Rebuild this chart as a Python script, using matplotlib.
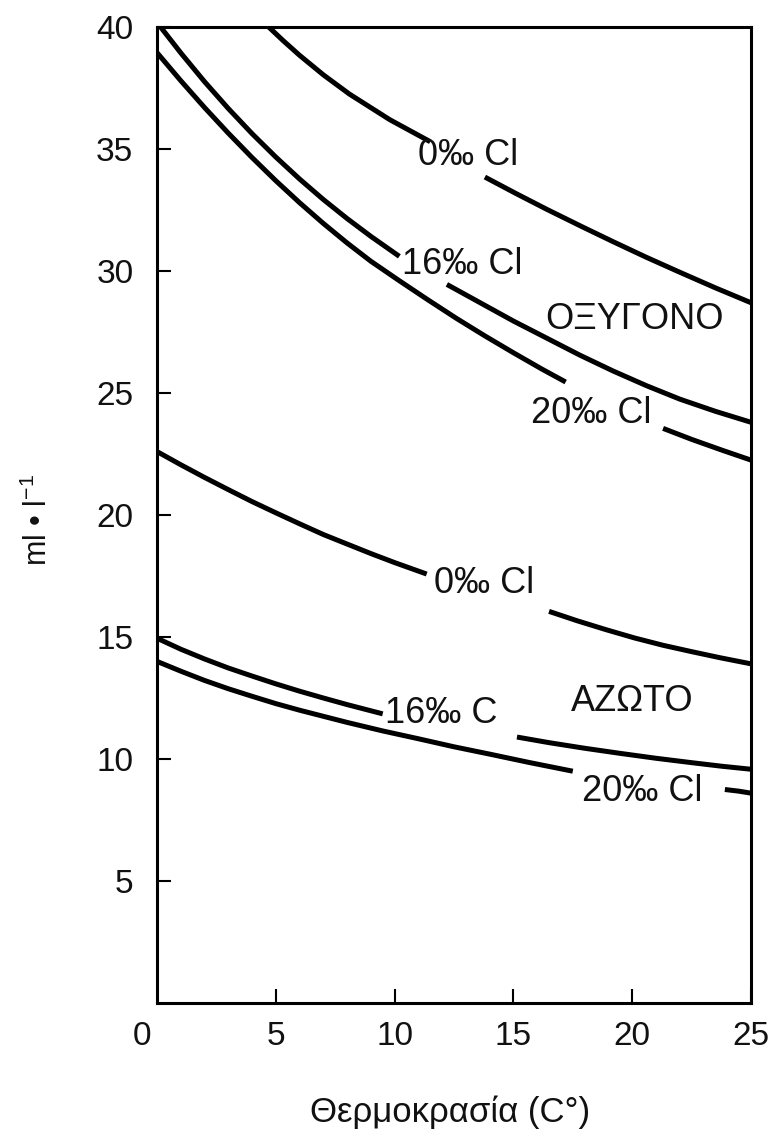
import matplotlib
matplotlib.use("Agg")
import matplotlib.pyplot as plt
import matplotlib.transforms as mtransforms

plt.rcParams['font.family'] = ['Liberation Sans', 'DejaVu Sans']
plt.rcParams['mathtext.fontset'] = 'custom'
plt.rcParams['mathtext.rm'] = 'Liberation Sans'
plt.rcParams['mathtext.it'] = 'Liberation Sans'
plt.rcParams['mathtext.default'] = 'rm'

# ---- data (temperature °C, dissolved gas ml/l); each curve has two segments ----
o2_0_T = [[4.7, 5.3, 6.0, 7.0, 8.1, 9.8, 11.5],
          [13.8, 15.1, 16.4, 17.9, 19.2, 20.6, 22.0, 23.5, 25.0]]
o2_0_V = [[40.0, 39.45, 38.84, 38.04, 37.25, 36.2, 35.3],
          [33.85, 33.18, 32.53, 31.81, 31.2, 30.56, 29.95, 29.31, 28.7]]

o2_16_T = [[0.15, 1.0, 2.0, 3.0, 4.0, 5.0, 6.0, 7.0, 8.0, 9.0, 10.2],
           [12.2, 13.6, 15.0, 16.4, 17.8, 19.2, 20.6, 22.0, 23.5, 25.0]]
o2_16_V = [[40.0, 38.94, 37.76, 36.66, 35.63, 34.67, 33.77, 32.93, 32.15, 31.42, 30.6],
           [29.45, 28.7, 27.95, 27.25, 26.55, 25.9, 25.3, 24.75, 24.25, 23.8]]

o2_20_T = [[0.0, 1.0, 2.0, 3.0, 4.0, 5.0, 6.0, 7.0, 8.0, 9.0, 10.2, 11.4, 12.6, 13.8, 15.0, 16.2, 17.2],
           [21.3, 22.5, 23.8, 25.0]]
o2_20_V = [[38.95, 37.8, 36.7, 35.65, 34.65, 33.7, 32.8, 31.95, 31.15, 30.4, 29.6, 28.82, 28.06, 27.34, 26.65, 25.98, 25.45],
           [23.55, 23.1, 22.65, 22.25]]

n2_0_T = [[0.0, 1.0, 2.0, 3.0, 4.0, 5.0, 6.0, 7.0, 8.0, 9.0, 10.0, 11.35],
          [16.5, 17.7, 18.9, 20.1, 21.3, 22.5, 23.7, 25.0]]
n2_0_V = [[22.6, 22.06, 21.54, 21.04, 20.55, 20.09, 19.64, 19.2, 18.81, 18.42, 18.05, 17.58],
          [16.05, 15.66, 15.3, 14.96, 14.66, 14.4, 14.15, 13.9]]

n2_16_T = [[0.0, 1.0, 2.0, 3.0, 4.0, 5.0, 6.0, 7.0, 8.0, 9.5],
           [15.15, 16.5, 18.0, 19.5, 21.0, 22.5, 23.8, 25.0]]
n2_16_V = [[14.95, 14.5, 14.1, 13.73, 13.4, 13.08, 12.78, 12.5, 12.23, 11.85],
           [10.9, 10.67, 10.44, 10.23, 10.03, 9.85, 9.7, 9.58]]

n2_20_T = [[0.0, 1.0, 2.0, 3.0, 4.0, 5.0, 6.0, 7.0, 8.0, 9.5, 11.0, 12.5, 14.0, 15.7, 17.5],
           [23.9, 24.5, 25.0]]
n2_20_V = [[14.0, 13.6, 13.22, 12.88, 12.57, 12.27, 12.0, 11.75, 11.5, 11.15, 10.83, 10.5, 10.2, 9.85, 9.5],
           [8.75, 8.68, 8.6]]

curves = [(o2_0_T, o2_0_V), (o2_16_T, o2_16_V), (o2_20_T, o2_20_V),
          (n2_0_T, n2_0_V), (n2_16_T, n2_16_V), (n2_20_T, n2_20_V)]

labels = ["0‰ Cl", "16‰ Cl", "ΟΞΥΓΟΝΟ", "20‰ Cl",
          "0‰ Cl", "ΑΖΩΤΟ", "16‰ C", "20‰ Cl"]
label_T = [13.1, 12.85, 20.1, 18.27, 13.75, 20.0, 11.95, 20.4]
label_V = [34.75, 30.25, 28.0, 24.18, 17.2, 12.35, 11.85, 8.65]

x_ticks = [5, 10, 15, 20, 25]
y_ticks = [5, 10, 15, 20, 25, 30, 35, 40]

# ---- figure ----
fig = plt.figure(figsize=(7.76, 11.37), dpi=100)
ax = fig.add_axes([157 / 776, 1 - 1003 / 1137, 594 / 776, 976 / 1137])

for Ts, Vs in curves:
    for t, v in zip(Ts, Vs):
        ax.plot(t, v, color='black', lw=3.6, solid_capstyle='butt',
                solid_joinstyle='round')

for s, t, v in zip(labels, label_T, label_V):
    ax.text(t, v, s, ha='center', va='center', fontsize=26, color='#111111')

ax.set_xlim(0, 25)
ax.set_ylim(0, 40)
ax.set_xticks(x_ticks)
ax.set_yticks(y_ticks)
ax.tick_params(direction='in', length=10, width=1.5, labelsize=24,
               colors='black', labelcolor='#111111')
ax.tick_params(axis='x', pad=13)
ax.tick_params(axis='y', pad=17)
for sp in ax.spines.values():
    sp.set_linewidth(2.2)

trans = mtransforms.blended_transform_factory(ax.transData, ax.transAxes)
ax.text(-0.65, 0, "0", ha='center', va='top', fontsize=24, color='#111111',
        transform=trans + mtransforms.ScaledTranslation(0, -13 / 72, fig.dpi_scale_trans))

fig.text(0.049, 0.543, "ml • l$^{-1}$", rotation=90, ha='center',
         va='center', fontsize=22, color='#111111')
fig.text(0.58, 0.0132, "Θερμοκρασία (C°)", ha='center', va='baseline',
         fontsize=25, color='#111111')

fig.savefig("out.png", dpi=100, facecolor='white')
